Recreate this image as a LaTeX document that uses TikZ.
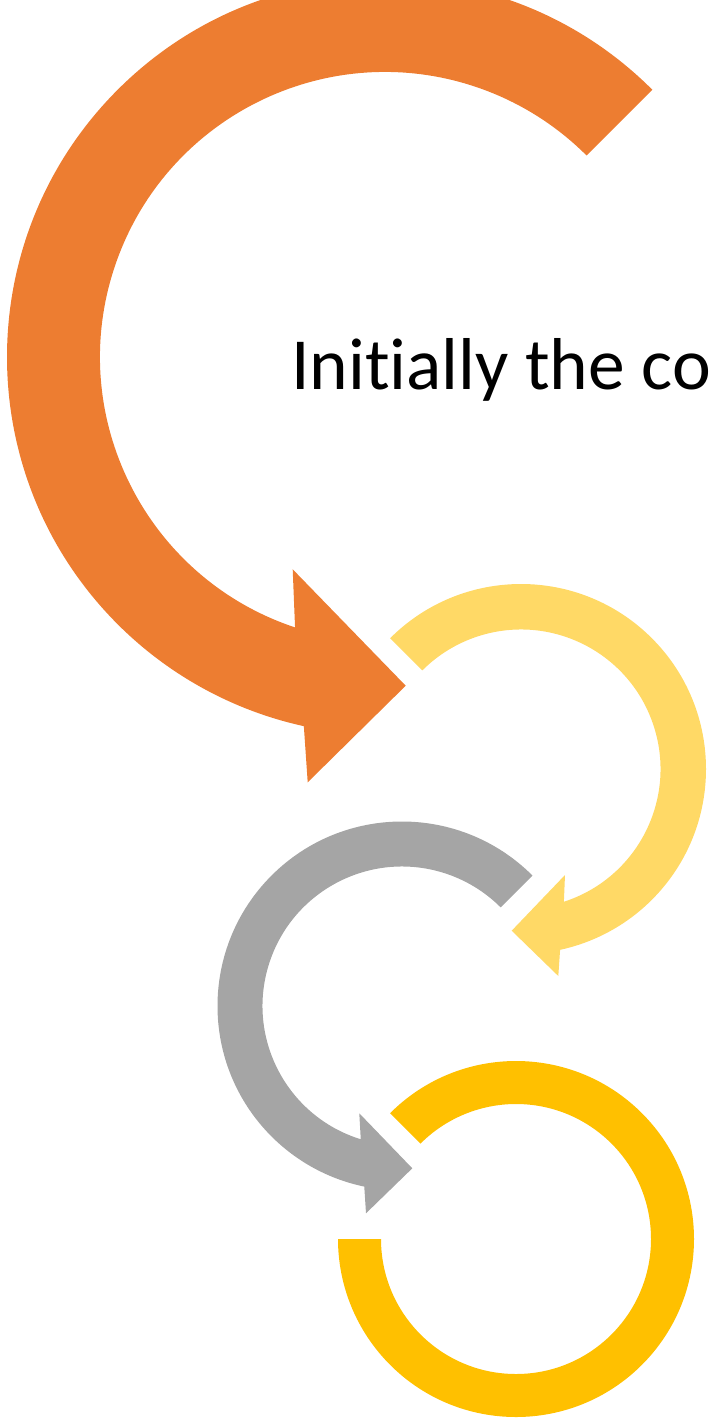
\documentclass[tikz,border=0pt]{standalone}
\usepackage{fontspec}
\setmainfont[Ligatures=NoCommon]{Carlito}
\usetikzlibrary{calc}
\definecolor{orangeA}{HTML}{ED7D31}
\definecolor{goldlight}{HTML}{FFD966}
\definecolor{grayA}{HTML}{A5A5A5}
\definecolor{goldA}{HTML}{FFC000}
\tikzset{arrowshape/.style={fill=#1, draw=none}}
\begin{document}
\begin{tikzpicture}[x=1pt,y=1pt]
\useasboundingbox (0,0) rectangle (709,-1418);
\clip (0,0) rectangle (709,-1418);
% centres
\coordinate (c1) at (385,-357);
\coordinate (c2) at (521,-769);
\coordinate (c3) at (402,-1006);
\coordinate (c4) at (516,-1239);
% orange arrow
\coordinate (o1) at (307.7,-782.3);
\coordinate (o2) at (405.7,-685.7);
\coordinate (o3) at (292.7,-569.3);
\fill[arrowshape=orangeA] ($(c1)+(45:378)$) arc[start angle=45,end angle=257.6,radius=378]
  -- (o1) -- (o2) -- (o3) -- ($(c1)+(251.6:285)$)
  arc[start angle=251.6,end angle=45,radius=285] -- cycle;
% light gold arrow
\coordinate (y1) at (558.3,-976);
\coordinate (y2) at (511.7,-930.7);
\coordinate (y3) at (565,-875);
\fill[arrowshape=goldlight] ($(c2)+(135:185)$) arc[start angle=135,end angle=-77.8,radius=185]
  -- (y1) -- (y2) -- (y3) -- ($(c2)+(-72.1:139.5)$)
  arc[start angle=-72.1,end angle=135,radius=139.5] -- cycle;
% gray arrow
\coordinate (g1) at (366,-1213.3);
\coordinate (g2) at (412.3,-1168.3);
\coordinate (g3) at (359.3,-1113.3);
\fill[arrowshape=grayA] ($(c3)+(45:184.5)$) arc[start angle=45,end angle=258.2,radius=184.5]
  -- (g1) -- (g2) -- (g3) -- ($(c3)+(252.8:139.5)$)
  arc[start angle=252.8,end angle=45,radius=139.5] -- cycle;
% gold ring
\fill[arrowshape=goldA] ($(c4)+(135:178)$) arc[start angle=135,end angle=-180,radius=178]
  -- ($(c4)+(180:135)$) arc[start angle=-180,end angle=135,radius=135] -- cycle;
% text
\node[anchor=base west, inner sep=0pt, font=\fontsize{73.5pt}{88pt}\selectfont] (t) at (291,-389) {Initially the co};
\end{tikzpicture}
\end{document}
